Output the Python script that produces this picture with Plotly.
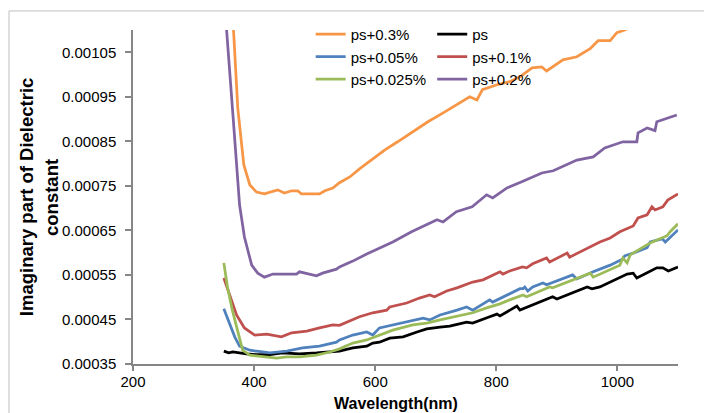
import plotly.graph_objects as go

# ---- data ----
wl_p3 = [350, 360, 366, 373, 383, 393, 404, 417, 439, 450, 462, 472, 478, 508, 517, 530, 541, 558, 574, 594,
         616, 637, 662, 687, 715, 734, 756, 768, 777, 801, 822, 839, 859, 875, 883, 910, 933, 955, 968, 988,
         999, 1012, 1040, 1070, 1100]
v_p3 = [0.00165, 0.00125, 0.00110, 0.000925, 0.000797, 0.000752, 0.000736, 0.000732, 0.000741, 0.000734,
        0.000739, 0.000739, 0.000732, 0.000732, 0.000739, 0.000745, 0.000757, 0.000770, 0.000788, 0.000808,
        0.000831, 0.000849, 0.000871, 0.000894, 0.000916, 0.000932, 0.000950, 0.000943, 0.000966, 0.000977,
        0.000984, 0.000995, 0.001015, 0.001017, 0.001008, 0.001033, 0.001040, 0.001058, 0.001076, 0.001076,
        0.001094, 0.001100, 0.001120, 0.001140, 0.001160]

wl_ps = [350, 358, 365, 373, 387, 404, 426, 447, 475, 503, 530, 541, 563, 586, 596, 607, 624, 641, 646, 669,
         685, 707, 723, 751, 761, 789, 801, 806, 822, 834, 839, 867, 893, 900, 950, 958, 971, 1016, 1026, 1032,
         1065, 1075, 1084, 1100]
v_ps = [0.000379, 0.000375, 0.000377, 0.000375, 0.000373, 0.000371, 0.000371, 0.000375, 0.000373, 0.000375,
        0.000377, 0.000379, 0.000386, 0.000390, 0.000397, 0.000399, 0.000408, 0.000411, 0.000411, 0.000422,
        0.000429, 0.000433, 0.000435, 0.000444, 0.000442, 0.000456, 0.000462, 0.000458, 0.000471, 0.000480,
        0.000471, 0.000487, 0.000501, 0.000496, 0.000523, 0.000519, 0.000523, 0.000552, 0.000554, 0.000543,
        0.000566, 0.000566, 0.000559, 0.000568]

wl_p005 = [350, 356, 368, 376, 393, 414, 426, 454, 480, 508, 536, 541, 563, 586, 596, 607, 629, 652, 679, 690,
           707, 735, 751, 761, 789, 794, 817, 839, 844, 847, 852, 860, 877, 883, 926, 933, 960, 988, 1009, 1012,
           1026, 1049, 1054, 1074, 1079, 1087, 1100]
v_p005 = [0.000474, 0.000453, 0.000411, 0.000390, 0.000381, 0.000377, 0.000375, 0.000379, 0.000386, 0.000390,
          0.000399, 0.000404, 0.000415, 0.000422, 0.000415, 0.000431, 0.000438, 0.000444, 0.000453, 0.000449,
          0.000460, 0.000471, 0.000478, 0.000471, 0.000494, 0.000489, 0.000505, 0.000519, 0.000519, 0.000523,
          0.000514, 0.000523, 0.000532, 0.000528, 0.000550, 0.000541, 0.000557, 0.000572, 0.000586, 0.000593,
          0.000599, 0.000611, 0.000624, 0.000631, 0.000624, 0.000635, 0.000651]

wl_p01 = [350, 360, 371, 384, 401, 421, 445, 462, 487, 508, 530, 541, 558, 574, 596, 619, 624, 652, 673, 690,
          698, 718, 735, 761, 778, 806, 811, 822, 843, 850, 860, 883, 888, 917, 921, 938, 971, 988, 1004, 1026,
          1034, 1049, 1057, 1062, 1075, 1083, 1100]
v_p01 = [0.000543, 0.000501, 0.000460, 0.000431, 0.000415, 0.000417, 0.000411, 0.000420, 0.000424, 0.000431,
         0.000438, 0.000437, 0.000446, 0.000456, 0.000465, 0.000471, 0.000478, 0.000487, 0.000498, 0.000505,
         0.000501, 0.000514, 0.000521, 0.000534, 0.000539, 0.000557, 0.000552, 0.000559, 0.000568, 0.000566,
         0.000575, 0.000588, 0.000579, 0.000599, 0.000590, 0.000602, 0.000624, 0.000633, 0.000647, 0.000660,
         0.000678, 0.000685, 0.000703, 0.000696, 0.000703, 0.000718, 0.000732]

wl_p0025 = [350, 356, 364, 373, 381, 393, 414, 437, 454, 475, 503, 525, 541, 563, 586, 607, 629, 662, 685, 707,
            735, 761, 784, 806, 822, 844, 850, 888, 893, 955, 960, 1004, 1009, 1016, 1021, 1042, 1054, 1082, 1087,
            1100]
v_p0025 = [0.000577, 0.000523, 0.000471, 0.000420, 0.000381, 0.000370, 0.000366, 0.000363, 0.000366, 0.000366,
           0.000370, 0.000377, 0.000384, 0.000397, 0.000404, 0.000415, 0.000426, 0.000438, 0.000442, 0.000449,
           0.000458, 0.000465, 0.000476, 0.000485, 0.000494, 0.000505, 0.000501, 0.000523, 0.000521, 0.000554,
           0.000545, 0.000572, 0.000588, 0.000577, 0.000595, 0.000611, 0.000622, 0.000638, 0.000647, 0.000665]

wl_p02 = [350, 354, 365, 376, 384, 396, 406, 417, 431, 470, 475, 503, 513, 536, 541, 563, 586, 607, 629, 660,
          685, 702, 712, 734, 760, 784, 794, 817, 842, 875, 894, 933, 960, 979, 1009, 1032, 1034, 1049, 1062,
          1065, 1098]
v_p02 = [0.00120, 0.00111, 0.00091, 0.000707, 0.000635, 0.000572, 0.000554, 0.000545, 0.000552, 0.000552,
         0.000557, 0.000548, 0.000554, 0.000563, 0.000568, 0.000581, 0.000597, 0.000610, 0.000624, 0.000647,
         0.000662, 0.000674, 0.000669, 0.000692, 0.000703, 0.000730, 0.000723, 0.000745, 0.000759, 0.000779,
         0.000784, 0.000808, 0.000815, 0.000835, 0.000849, 0.000849, 0.000869, 0.000880, 0.000874, 0.000894,
         0.000909]

x_ticks = [200, 400, 600, 800, 1000]
y_ticks = [0.00035, 0.00045, 0.00055, 0.00065, 0.00075, 0.00085, 0.00095, 0.00105]
y_ticktext = ["0.00035", "0.00045", "0.00055", "0.00065", "0.00075", "0.00085", "0.00095", "0.00105"]

x_title = "Wavelength(nm)"
y_title_lines = ["Imaginary part of Dielectric", "constant"]

series = [
    ("ps+0.3%", wl_p3, v_p3, "#F79646", "legend"),
    ("ps", wl_ps, v_ps, "#000000", "legend2"),
    ("ps+0.05%", wl_p005, v_p005, "#4F81BD", "legend"),
    ("ps+0.1%", wl_p01, v_p01, "#C0504D", "legend2"),
    ("ps+0.025%", wl_p0025, v_p0025, "#9BBB59", "legend"),
    ("ps+0.2%", wl_p02, v_p02, "#8064A2", "legend2"),
]

fig = go.Figure()
for name, xs, ys, col, lg in series:
    fig.add_trace(go.Scatter(x=xs, y=ys, mode="lines", name=name, legend=lg,
                             line=dict(color=col, width=2.75)))

FONT = "Liberation Sans"
axis_col = "#868686"

annotations = [
    dict(text="<b>%s</b>" % x_title, xref="paper", yref="paper", x=0.483, y=-0.117,
         xanchor="center", yanchor="middle", showarrow=False, font=dict(size=16)),
    dict(text="<b>%s</b>" % y_title_lines[0], xref="paper", yref="paper", x=-0.196, y=0.5,
         xanchor="center", yanchor="middle", textangle=-90, showarrow=False, font=dict(size=18.5)),
    dict(text="<b>%s</b>" % y_title_lines[1], xref="paper", yref="paper", x=-0.1505, y=0.5,
         xanchor="center", yanchor="middle", textangle=-90, showarrow=False, font=dict(size=18.5)),
]

fig.update_layout(
    width=704, height=413,
    margin=dict(l=133, r=26, t=30, b=49, autoexpand=False),
    paper_bgcolor="white", plot_bgcolor="white",
    font=dict(family=FONT, size=15, color="black"),
    xaxis=dict(range=[200, 1100], tickvals=x_ticks, showline=True, linecolor=axis_col, linewidth=1.5,
               ticks="outside", ticklen=5, tickcolor=axis_col, tickwidth=1.5, showgrid=False, zeroline=False,
               tickfont=dict(size=15), ticklabelstandoff=-2),
    yaxis=dict(range=[0.00035, 0.0011], tickvals=y_ticks, ticktext=y_ticktext, showline=True,
               linecolor=axis_col, linewidth=1.5, ticks="outside", ticklen=6, tickcolor=axis_col, tickwidth=1.5,
               showgrid=False, zeroline=False, tickfont=dict(size=15), ticklabelstandoff=6),
    legend=dict(x=0.326, y=1.036, xanchor="left", yanchor="top", bgcolor="rgba(0,0,0,0)",
                font=dict(size=15), tracegroupgap=0, itemwidth=30),
    legend2=dict(x=0.549, y=1.036, xanchor="left", yanchor="top", bgcolor="rgba(0,0,0,0)",
                 font=dict(size=15), tracegroupgap=0, itemwidth=30),
    annotations=annotations,
    shapes=[dict(type="rect", xref="paper", yref="paper", x0=-0.2275, y0=-0.2, x1=1.1, y1=1.057,
                 line=dict(color="#BFBFBF", width=1), layer="below")],
)

fig.write_html("out.html", config={"displayModeBar": False},
               post_script="document.body.style.margin='0px';document.body.style.overflow='hidden';")
